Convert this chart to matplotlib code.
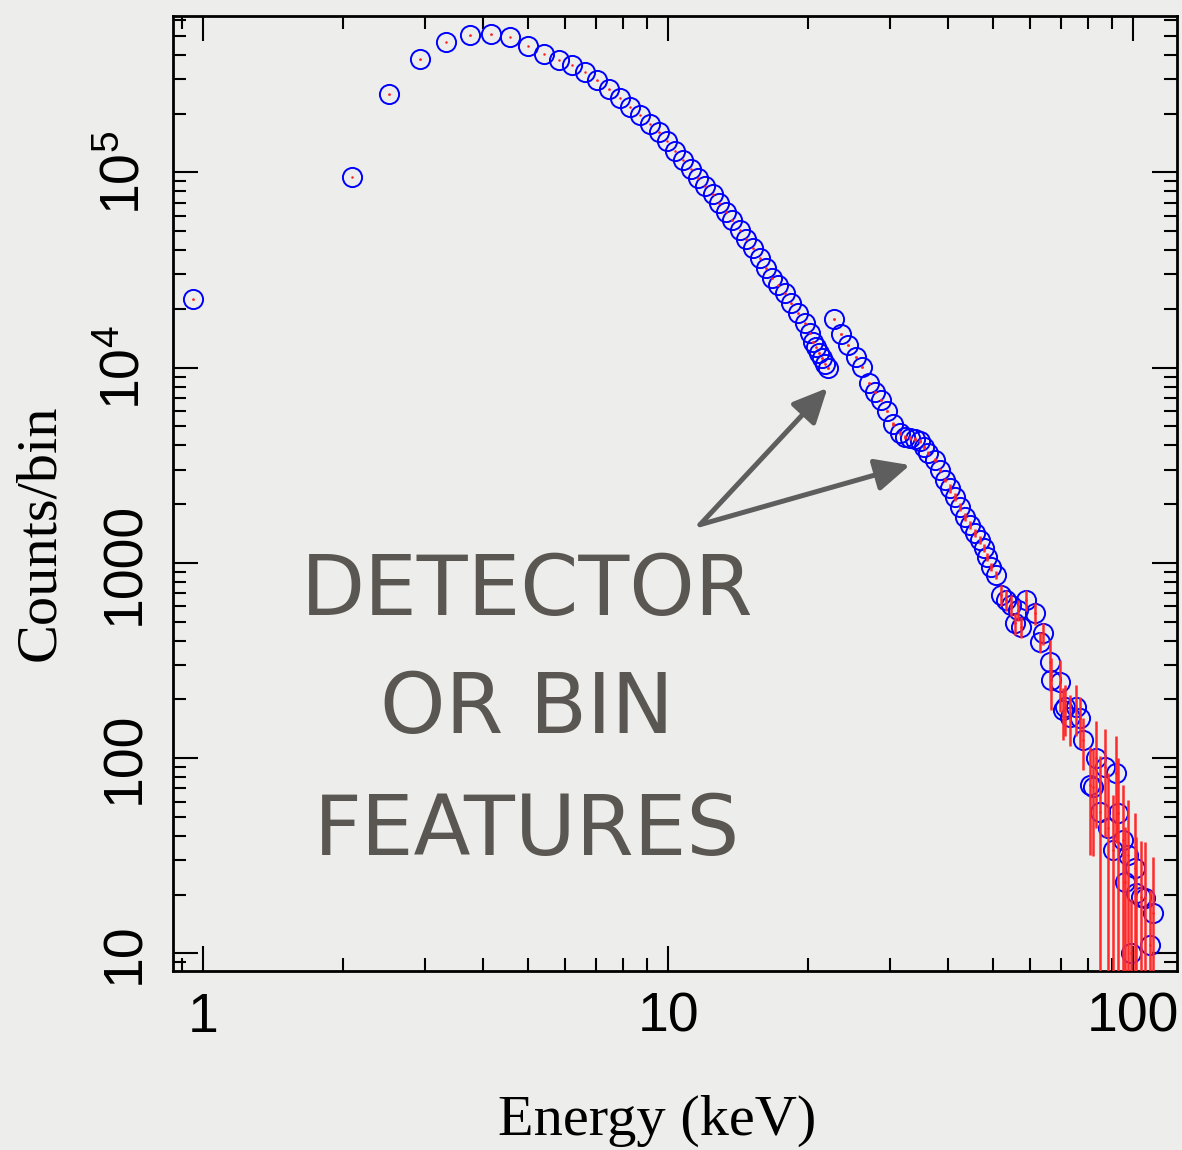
import matplotlib

matplotlib.use("Agg")

import matplotlib.pyplot as plt
import numpy as np
from matplotlib.ticker import FixedLocator, FixedFormatter, LogLocator, NullFormatter

# Spectrum: energy (keV), counts per bin, 1-sigma error
energy = [
    0.95, 2.09, 2.51, 2.92, 3.33, 3.74, 4.15, 4.56, 4.98, 5.39,
    5.81, 6.21, 6.62, 7.04, 7.45, 7.87, 8.29, 8.70, 9.12, 9.53,
    9.94, 10.36, 10.76, 11.18, 11.59, 12.02, 12.45, 12.86, 13.34, 13.74,
    14.25, 14.73, 15.22, 15.73, 16.26, 16.75, 17.22, 17.80, 18.40, 19.01,
    19.65, 20.15, 20.50, 20.83, 21.10, 21.36, 21.71, 22.07,
    22.73, 23.58, 24.36, 25.31, 26.16, 26.99, 27.80, 28.64, 29.58, 30.44,
    31.46, 32.25, 33.06, 33.89, 34.74, 35.44, 36.20, 37.42, 38.36, 39.32,
    40.31, 41.32, 42.36, 43.42, 44.51, 45.62, 46.77, 47.70, 48.41, 49.56,
    50.80, 52.08, 53.38, 54.72, 55.80, 56.54, 57.50, 58.93, 61.41, 62.93,
    63.97, 66.14, 66.70, 69.49, 70.63, 71.24, 73.01, 75.46, 76.71, 77.98,
    80.64, 81.97, 83.36, 84.72, 86.85, 88.28, 90.50, 92.03, 92.76, 95.08,
    96.2, 97.45, 99.1, 100.7, 101.6, 104.1, 105.9, 108.5, 110.3,
]
counts = [
    22400, 94600, 250700, 379000, 464800, 502900, 508800, 492900, 444800, 404900,
    377100, 355600, 326300, 295900, 266100, 240200, 216700, 196500, 177400, 160200,
    144700, 128600, 115600, 103900, 93800, 85100, 77200, 69400, 62850, 56800,
    50660, 45400, 40830, 36280, 32250, 28660, 26480, 24010, 21340, 18970,
    16860, 14990, 13500, 12700, 11900, 11200, 10500, 9920,
    17740, 14860, 13050, 11370, 10030, 8370, 7525, 6826, 6031, 5143,
    4605, 4413, 4360, 4309, 4209, 3922, 3640, 3364, 2990, 2657,
    2410, 2183, 1940, 1725, 1564, 1418, 1310, 1192, 1072, 956,
    867, 685, 646, 609, 491, 574, 471, 646, 552, 395,
    436, 312, 251, 246, 176.5, 183.5, 163, 183.5, 160, 124,
    72.9, 71.5, 99.9, 53.2, 90.5, 43.8, 33.9, 83.7, 52.2, 38.1,
    23.3, 31.9, 10.0, 27.3, 20.3, 19.5, 19.2, 11.1, 16.1,
]
count_err = [
    150, 300, 500, 620, 680, 710, 710, 700, 670, 640,
    610, 600, 570, 540, 520, 490, 470, 440, 420, 400,
    380, 360, 340, 320, 310, 290, 280, 260, 250, 240,
    225, 213, 202, 190, 180, 170, 163, 155, 146, 138,
    130, 122, 116, 113, 109, 106, 102, 100,
    210, 177, 155, 135, 119, 100, 90, 81, 72, 122,
    110, 105, 104, 103, 100, 93, 87, 80, 71, 63,
    116, 105, 94, 83, 76, 68, 63, 58, 52, 46,
    42, 86, 81, 76, 61, 72, 59, 81, 69, 49,
    55, 92, 74, 73, 52, 54, 48, 54, 47, 37,
    41, 40, 56, 49, 51, 40, 31, 47, 48, 35,
    21, 29, 9, 25, 19, 18, 18, 10, 15,
]

x_ticks = [1, 10, 100]
x_tick_labels = ["1", "10", "100"]
y_ticks = [10, 100, 1000, 1e4, 1e5]
y_tick_labels = ["10", "100", "1000", r"$10^4$", r"$10^5$"]
note_lines = ["DETECTOR", "OR BIN", "FEATURES"]

BG = "#edeeec"
NOTE = "#5a5651"

plt.rcParams["font.family"] = ["Liberation Sans", "DejaVu Sans"]
plt.rcParams["mathtext.fontset"] = "custom"
plt.rcParams["mathtext.rm"] = "Liberation Sans"
plt.rcParams["mathtext.it"] = "Liberation Sans:italic"

fig = plt.figure(figsize=(11.82, 11.5), dpi=100, facecolor=BG)
ax = fig.add_axes([0.1464, 0.1557, 0.8494, 0.8306], facecolor=BG)

e = np.array(energy)
c = np.array(counts)
err = np.array(count_err)

ax.plot(e, c, "o", mfc="none", mec="#0000ff", ms=13.8, mew=1.4, zorder=2)
ax.errorbar(e, c, yerr=err, fmt="none", ecolor="#ff2a2a", elinewidth=1.8,
            capsize=0, zorder=3)
ax.plot(e, c, "o", color="#ff2020", ms=1.8, mew=0, zorder=4)

ax.set_xscale("log")
ax.set_yscale("log")
ax.set_xlim(0.86, 124.3)
ax.set_ylim(8.14, 6.34e5)

ax.xaxis.set_major_locator(FixedLocator(x_ticks))
ax.xaxis.set_major_formatter(FixedFormatter(x_tick_labels))
ax.yaxis.set_major_locator(FixedLocator(y_ticks))
ax.yaxis.set_major_formatter(FixedFormatter(y_tick_labels))
for axis in (ax.xaxis, ax.yaxis):
    axis.set_minor_locator(LogLocator(base=10, subs=np.arange(2, 10), numticks=20))
    axis.set_minor_formatter(NullFormatter())

ax.tick_params(which="both", direction="in", top=True, right=True,
               width=1.5, color="black")
ax.tick_params(which="major", length=18)
ax.tick_params(which="minor", length=9.5)
ax.tick_params(axis="x", labelsize=40, pad=15)
ax.tick_params(axis="y", labelsize=40, pad=16)
for lbl in ax.get_yticklabels():
    lbl.set_rotation(90)
    lbl.set_va("center")

for sp in ax.spines.values():
    sp.set_linewidth(2)

fig.text(0.556, 0.025, "Energy (keV)", family="Liberation Serif", size=42,
         ha="center", va="center")
fig.text(0.034, 0.537, "Counts/bin", family="Liberation Serif", size=42,
         rotation=90, ha="center", va="center")

# hand-written style note with arrows pointing at the two features
for line, ypos in zip(note_lines, [0.486, 0.383, 0.277]):
    fig.text(0.446, ypos, line, family="DejaVu Sans", size=60, color=NOTE,
             ha="center", va="center")

arrow = dict(arrowstyle="-|>,head_length=0.7,head_width=0.33", color="#5e5e5e",
             lw=3.6, shrinkA=0, shrinkB=0, mutation_scale=30)
ax.annotate("", xy=(22.0, 7870), xytext=(11.7, 1570), arrowprops=arrow, zorder=5)
ax.annotate("", xy=(33.1, 3170), xytext=(11.7, 1570), arrowprops=arrow, zorder=5)

fig.savefig("out.png", dpi=100, facecolor=BG)
